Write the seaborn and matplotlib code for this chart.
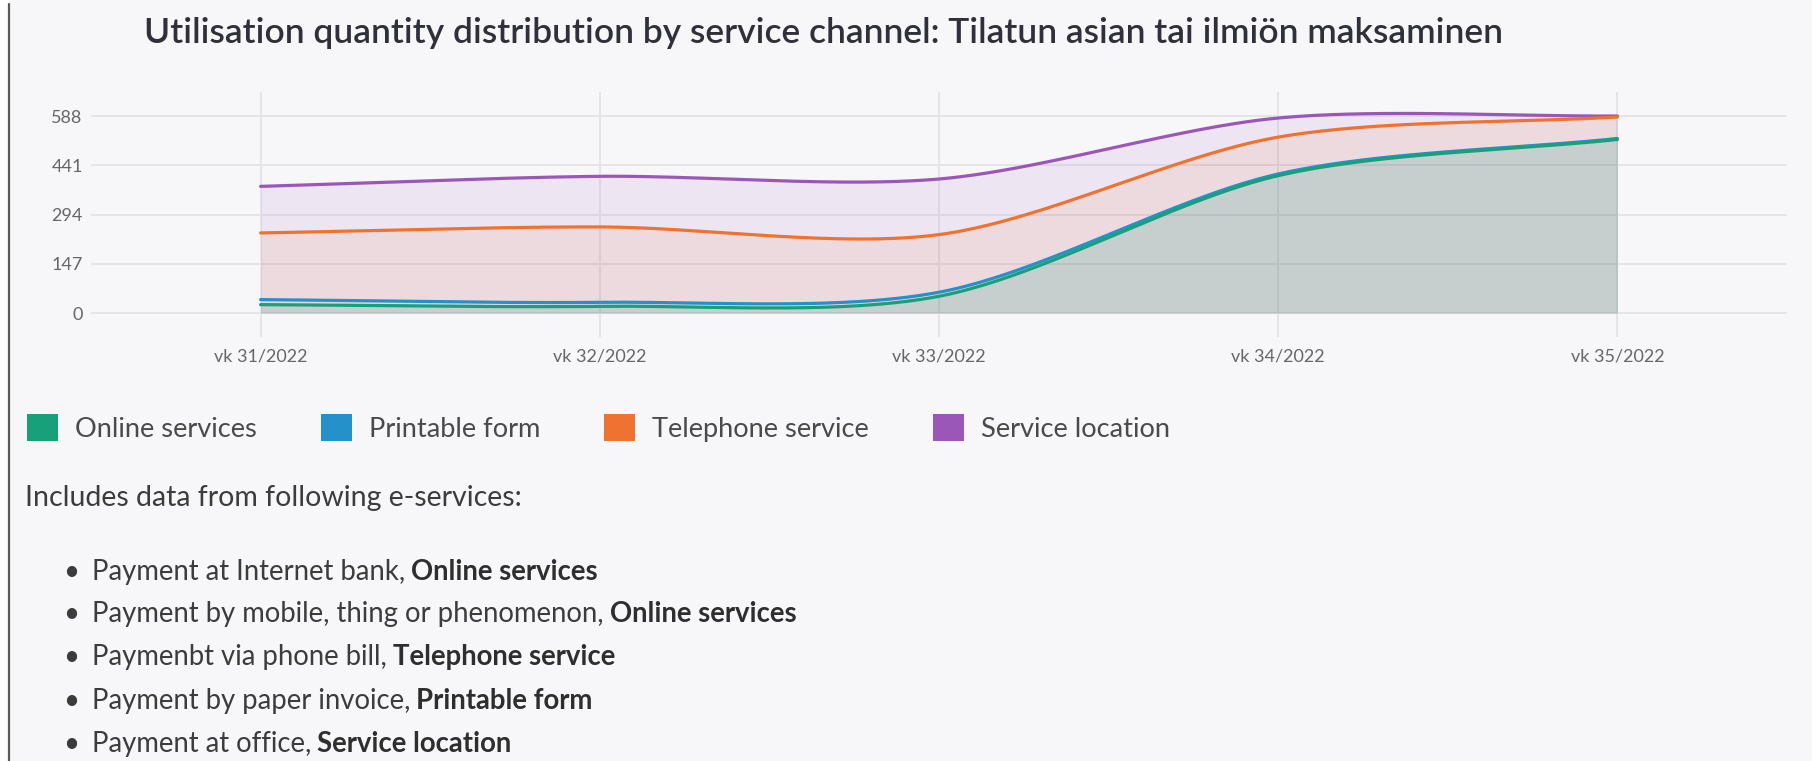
import numpy as np
import pandas as pd
import matplotlib
matplotlib.use("Agg")
import matplotlib.pyplot as plt
from matplotlib.patches import Patch, Rectangle
from matplotlib.lines import Line2D
import seaborn as sns

# ---------------- data ----------------
weeks = ["vk 31/2022", "vk 32/2022", "vk 33/2022", "vk 34/2022", "vk 35/2022"]
online_services = [25, 20, 50, 410, 518]
printable_form = [15, 12, 12, 5, 3]
telephone_service = [199, 225, 172, 110, 64]
service_location = [139, 151, 166, 57, 3]
series_names = ["Online services", "Printable form", "Telephone service", "Service location"]
y_ticks = [0, 147, 294, 441, 588]

title = "Utilisation quantity distribution by service channel: Tilatun asian tai ilmiön maksaminen"
intro = "Includes data from following e-services:"
bullet_plain = ["Payment at Internet bank,", "Payment by mobile, thing or phenomenon,",
                "Paymenbt via phone bill,", "Payment by paper invoice,", "Payment at office,"]
bullet_bold = ["Online services", "Online services", "Telephone service",
               "Printable form", "Service location"]

# ---------------- style ----------------
colors = ["#17a079", "#2591c9", "#ee7330", "#9b57b7"]
fill_alpha = [0.15, 0.04, 0.10, 0.10]
BG = "#f7f7f9"
W, H = 1812, 761

sns.set_theme(style="white")
plt.rcParams["font.family"] = ["Lato", "DejaVu Sans"]

fig = plt.figure(figsize=(W / 100, H / 100), dpi=100)
fig.patch.set_facecolor(BG)


def fx(px):
    return px / W


def fy(py):
    return 1 - py / H


# left page border
fig.add_artist(Rectangle((0, 0), fx(8), 1, transform=fig.transFigure, color="white", zorder=0))
fig.add_artist(Line2D([fx(9), fx(9)], [0, fy(4)], transform=fig.transFigure, color="#5a5a5a", lw=1.6))

# ---------------- axes ----------------
ax = fig.add_axes([fx(91), fy(337), (1787 - 91) / W, (337 - 92) / H])
ax.set_facecolor(BG)
for s in ax.spines.values():
    s.set_visible(False)

SX, SY = 338.5, 0.335  # pixel scale used for the smooth curve geometry


def smooth(ys, tension=0.3, per=80):
    xs = np.arange(len(ys), dtype=float)
    P = np.column_stack([xs * SX, np.asarray(ys, dtype=float) * SY])
    n = len(P)
    cp_prev = np.zeros_like(P)
    cp_next = np.zeros_like(P)
    for i in range(n):
        prev = P[i - 1] if i > 0 else P[i]
        nxt = P[i + 1] if i < n - 1 else P[i]
        d01 = np.hypot(*(P[i] - prev))
        d12 = np.hypot(*(nxt - P[i]))
        tot = d01 + d12
        s01 = d01 / tot if tot else 0.0
        s12 = d12 / tot if tot else 0.0
        cp_prev[i] = P[i] - tension * s01 * (nxt - prev)
        cp_next[i] = P[i] + tension * s12 * (nxt - prev)
    t = np.linspace(0, 1, per)[:, None]
    segs = []
    for i in range(n - 1):
        B = ((1 - t) ** 3) * P[i] + 3 * ((1 - t) ** 2) * t * cp_next[i] \
            + 3 * (1 - t) * t ** 2 * cp_prev[i + 1] + t ** 3 * P[i + 1]
        segs.append(B if i == 0 else B[1:])
    B = np.vstack(segs)
    return B[:, 0] / SX, B[:, 1] / SY


values = [online_services, printable_form, telephone_service, service_location]
cum = np.cumsum(np.array(values, dtype=float), axis=0)

frames = []
curves = []
for name, c in zip(series_names, cum):
    xs, ys = smooth(c)
    curves.append((xs, ys))
    frames.append(pd.DataFrame({"x": xs, "y": ys, "series": name}))
df = pd.concat(frames, ignore_index=True)

# stacked area fills (each to origin, overlapping translucently)
for k in reversed(range(4)):
    xs, ys = curves[k]
    ax.fill_between(xs, 0, ys, color=colors[k], alpha=fill_alpha[k], lw=0, zorder=1)

sns.lineplot(data=df, x="x", y="y", hue="series", hue_order=series_names[::-1],
             palette=dict(zip(series_names, colors)), sort=False, estimator=None,
             linewidth=2.3, legend=False, ax=ax, zorder=3)

ax.set_xlim(-0.5, 4.5)
ax.set_ylim(-71.6, 659.7)
ax.set_xticks(range(len(weeks)))
ax.set_xticklabels(weeks)
ax.set_yticks(y_ticks)
ax.set_yticklabels([str(v) for v in y_ticks])
ax.set_xlabel("")
ax.set_ylabel("")
ax.grid(True, color="#e2e2e5", lw=1.2, zorder=0)
ax.set_axisbelow(True)
ax.tick_params(axis="both", length=0, labelsize=13, labelcolor="#666666")
ax.tick_params(axis="y", pad=6)
ax.tick_params(axis="x", pad=8)

# ---------------- texts ----------------
renderer = fig.canvas.get_renderer()
TXT = "#3c3c3c"


def fit_width(t, target):
    w = t.get_window_extent(renderer).width
    t.set_fontsize(t.get_fontsize() * target / w)


t = fig.text(fx(144), fy(43), title, fontsize=19, fontweight="semibold", color="#30303a",
             ha="left", va="baseline")
fit_width(t, 1502 - 144)

# legend
LFS = 19.6
em = LFS * 100 / 72
handles = [Patch(facecolor=c, edgecolor="none") for c in colors]
fig.legend(handles, series_names, loc="center left", bbox_to_anchor=(fx(27), fy(428)),
           ncol=4, frameon=False, fontsize=LFS, borderaxespad=0, borderpad=0,
           handlelength=31 / em, handleheight=31 / em, handletextpad=17 / em,
           columnspacing=64 / em, labelcolor="#4a4a4a")

fig.text(fx(25), fy(506), intro, fontsize=20.5, color=TXT, ha="left", va="baseline")

BFS = 19.8
baselines = [580, 622, 665, 709, 752]
for yb, plain, bold in zip(baselines, bullet_plain, bullet_bold):
    fig.text(fx(71), fy(yb), "•", fontsize=BFS, color=TXT, ha="center", va="baseline")
    t1 = fig.text(fx(92), fy(yb), plain, fontsize=BFS, color=TXT, ha="left", va="baseline")
    w1 = t1.get_window_extent(renderer).width
    fig.text(fx(92 + w1 + 6), fy(yb), bold, fontsize=BFS, fontweight="bold", color="#2e2e2e",
             ha="left", va="baseline")

fig.savefig("out.png", dpi=100, facecolor=fig.get_facecolor())
